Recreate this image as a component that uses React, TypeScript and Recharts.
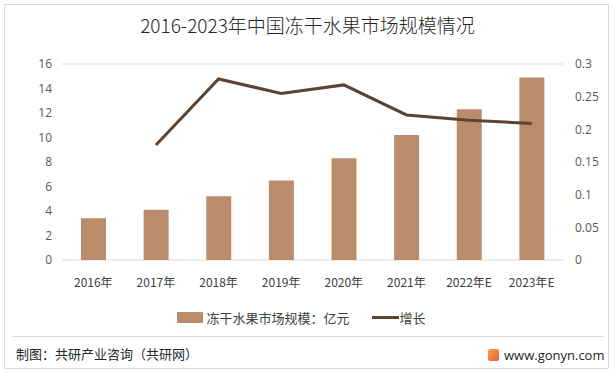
import { ComposedChart, Bar, Line, XAxis, YAxis, CartesianGrid, Legend } from 'recharts';

const years = ['2016年', '2017年', '2018年', '2019年', '2020年', '2021年', '2022年E', '2023年E'];
const marketSize = [3.4, 4.1, 5.2, 6.5, 8.3, 10.2, 12.3, 14.9];
const growth = [null, 0.176, 0.277, 0.255, 0.268, 0.222, 0.214, 0.209];
const leftTicks = [0, 2, 4, 6, 8, 10, 12, 14, 16];
const rightTicks = [0, 0.05, 0.1, 0.15, 0.2, 0.25, 0.3];

const data = years.map((name, i) => ({ name, size: marketSize[i], growth: growth[i] }));

const FONT = '"Noto Sans CJK SC", "Noto Sans", sans-serif';
const BAR = '#BA8C6B';
const LINE = '#5E4330';

const renderLegend = () => (
  <div style={{ display: 'flex', justifyContent: 'center', alignItems: 'center', fontFamily: FONT, fontSize: 13, color: '#404040' }}>
    <span style={{ display: 'inline-block', width: 26, height: 11, background: BAR, marginRight: 3 }} />
    <span style={{ marginRight: 22 }}>冻干水果市场规模：亿元</span>
    <span style={{ display: 'inline-block', width: 27, height: 3, background: LINE, marginRight: 1 }} />
    <span>增长</span>
  </div>
);

export default function App() {
  return (
    <div style={{ position: 'absolute', left: 0, top: 0, width: 615, height: 375, background: '#fff', fontFamily: FONT }}>
      <div style={{ position: 'absolute', left: 4, top: 4, width: 603, height: 363, border: '1px solid #d9d9d9' }} />
      <div style={{ position: 'absolute', left: 0, top: 11, width: 615, textAlign: 'center', fontSize: 19, color: '#262626', fontWeight: 300 }}>
        2016-2023年中国冻干水果市场规模情况
      </div>
      <div style={{ position: 'absolute', left: 0, top: 0 }}>
        <ComposedChart width={615} height={340} data={data} margin={{ top: 64, right: 12, bottom: 20, left: 0 }}>
          <CartesianGrid vertical={false} stroke="#d9d9d9" />
          <XAxis
            dataKey="name"
            axisLine={false}
            tickLine={false}
            height={30}
            interval={0}
            tick={{ fill: '#404040', fontSize: 12, fontFamily: FONT }}
            tickMargin={12}
          />
          <YAxis
            yAxisId="left"
            width={62}
            domain={[0, 16]}
            ticks={leftTicks}
            axisLine={false}
            tickLine={false}
            tick={{ fill: '#595959', fontSize: 12, fontFamily: '"Open Sans", sans-serif', dx: -2 }}
          />
          <YAxis
            yAxisId="right"
            orientation="right"
            width={40}
            domain={[0, 0.3]}
            ticks={rightTicks}
            axisLine={false}
            tickLine={false}
            tick={{ fill: '#595959', fontSize: 12, fontFamily: '"Open Sans", sans-serif', textAnchor: 'start', dx: 4 }}
          />
          <Legend verticalAlign="bottom" height={30} content={renderLegend} wrapperStyle={{ top: 308 }} />
          <Bar yAxisId="left" dataKey="size" fill={BAR} barSize={25} isAnimationActive={false} />
          <Line yAxisId="right" dataKey="growth" stroke={LINE} strokeWidth={3} dot={false} type="linear" isAnimationActive={false} />
        </ComposedChart>
      </div>
      <div style={{ position: 'absolute', left: 12, top: 336, width: 592, height: 1, background: '#d9d9d9' }} />
      <div style={{ position: 'absolute', left: 16, top: 344, fontSize: 13, color: '#262626' }}>制图：共研产业咨询（共研网）</div>
      <div style={{ position: 'absolute', left: 488, top: 346, display: 'flex', alignItems: 'center', fontSize: 13, color: '#262626', fontFamily: '"Open Sans", sans-serif' }}>
        <span style={{ display: 'inline-block', width: 11, height: 12, background: 'linear-gradient(135deg, #f6a04d, #e8612c)', borderRadius: 2, marginRight: 5 }} />
        www.gonyn.com
      </div>
    </div>
  );
}
